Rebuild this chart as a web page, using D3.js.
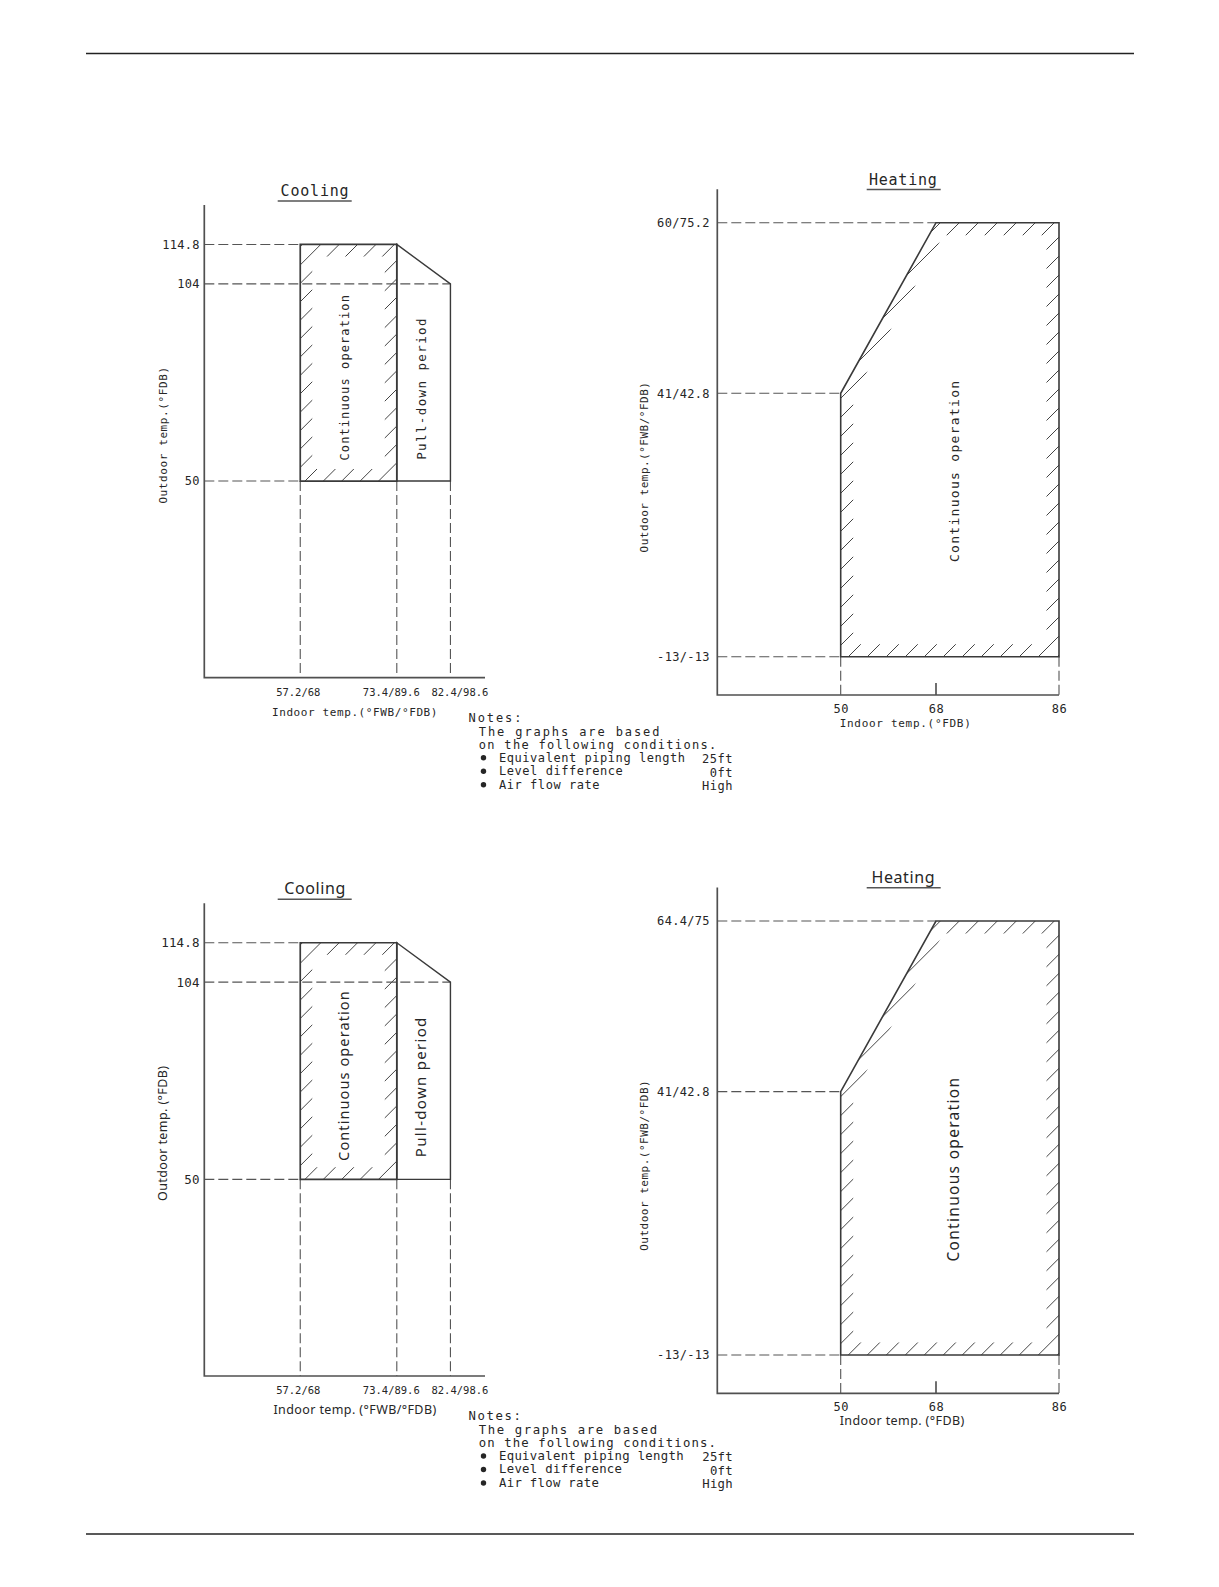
<!DOCTYPE html>
<html><head><meta charset="utf-8">
<script src="https://cdn.jsdelivr.net/npm/d3@7/dist/d3.min.js"></script>
<style>html,body{margin:0;padding:0;background:#fff}svg{display:block}</style>
</head><body>
<script>
// ---------------- DATA ----------------
const coolXValues = [57.2, 73.4, 82.4];                 // indoor °FWB
const coolXLabels = ["57.2/68", "73.4/89.6", "82.4/98.6"];
const coolYValues = [50, 104, 114.8];                   // outdoor °FDB
const coolYLabels = ["50", "104", "114.8"];
const coolContinuous = [[57.2, 50], [57.2, 114.8], [73.4, 114.8], [73.4, 50]];
const coolPullDown = [[73.4, 114.8], [82.4, 104], [82.4, 50], [73.4, 50]];

const heatXValues = [50, 68, 86];                       // indoor °FDB
const heatXLabels = ["50", "68", "86"];
const heatYValuesA = [-13, 42.8, 75.2];                 // outdoor °FDB
const heatYLabelsA = ["-13/-13", "41/42.8", "60/75.2"];
const heatEnvelopeA = [[50, -13], [50, 42.8], [68, 75.2], [86, 75.2], [86, -13]];
const heatYValuesB = [-13, 42.8, 75];
const heatYLabelsB = ["-13/-13", "41/42.8", "64.4/75"];
const heatEnvelopeB = [[50, -13], [50, 42.8], [68, 75], [86, 75], [86, -13]];

const noteHead = ["Notes:", "The graphs are based", "on the following conditions."];
const noteItems = ["Equivalent piping length", "Level difference", "Air flow rate"];
const noteValues = ["25ft", "0ft", "High"];

// ---------------- STYLE ----------------
const W = 1219, H = 1587;
const MONO = "'DejaVu Sans Mono','Liberation Mono',monospace";
const SANS = "'Noto Sans','DejaVu Sans',sans-serif";
const INK = "#262626";
const LINE = "#3a3a3a";
const BOTTOM_DY = 698.3;

const svg = d3.select("body").append("svg")
  .attr("width", W).attr("height", H).attr("viewBox", `0 0 ${W} ${H}`);
svg.append("rect").attr("width", W).attr("height", H).attr("fill", "#fff");

// page rules
svg.append("line").attr("x1", 86).attr("x2", 1134).attr("y1", 53.5).attr("y2", 53.5)
  .attr("stroke", "#222").attr("stroke-width", 1.5);
svg.append("line").attr("x1", 86).attr("x2", 1134).attr("y1", 1534).attr("y2", 1534)
  .attr("stroke", "#222").attr("stroke-width", 1.5);

function setFont(sel, f) {
  return sel.attr("font-family", f[0]).attr("font-size", f[1])
    .attr("letter-spacing", f[2]).attr("fill", INK);
}

function dashLine(g, x1, y1, x2, y2) {
  g.append("line").attr("x1", x1).attr("y1", y1).attr("x2", x2).attr("y2", y2)
    .attr("stroke", "#555").attr("stroke-width", 1.1).attr("stroke-dasharray", "10,4");
}

function inset(poly, d) {
  const n = poly.length;
  const cx = d3.mean(poly, p => p[0]), cy = d3.mean(poly, p => p[1]);
  const lines = [];
  for (let i = 0; i < n; i++) {
    const a = poly[i], b = poly[(i + 1) % n];
    const dx = b[0] - a[0], dy = b[1] - a[1], L = Math.hypot(dx, dy);
    let nx = -dy / L, ny = dx / L;
    if (nx * (cx - a[0]) + ny * (cy - a[1]) < 0) { nx = -nx; ny = -ny; }
    lines.push({ p: [a[0] + nx * d, a[1] + ny * d], d: [dx, dy] });
  }
  const out = [];
  for (let i = 0; i < n; i++) {
    const l1 = lines[(i - 1 + n) % n], l2 = lines[i];
    const cr = l1.d[0] * l2.d[1] - l1.d[1] * l2.d[0];
    const t = ((l2.p[0] - l1.p[0]) * l2.d[1] - (l2.p[1] - l1.p[1]) * l2.d[0]) / cr;
    out.push([l1.p[0] + t * l1.d[0], l1.p[1] + t * l1.d[1]]);
  }
  return out;
}

// border hatching: 45° strokes clipped to a band just inside the polygon
function hatch(g, poly, id, c0, step, band) {
  const inner = inset(poly, band);
  const d = "M" + poly.join("L") + "Z M" + inner.join("L") + "Z";
  g.append("clipPath").attr("id", id).append("path").attr("d", d).attr("clip-rule", "evenodd");
  const xs = poly.map(p => p[0]), ys = poly.map(p => p[1]);
  const minC = d3.min(xs) + d3.min(ys), maxC = d3.max(xs) + d3.max(ys);
  const top = d3.min(ys) - 2, bot = d3.max(ys) + 2;
  let c = c0; while (c > minC) c -= step;
  const cs = []; for (; c <= maxC + step; c += step) cs.push(c);
  g.append("g").attr("clip-path", `url(#${id})`)
    .selectAll("line").data(cs).join("line")
    .attr("x1", k => k - bot).attr("y1", bot)
    .attr("x2", k => k - top).attr("y2", top)
    .attr("stroke", "#444").attr("stroke-width", 1);
}

function drawTitle(g, text, cx, baseline, ul, f) {
  setFont(g.append("text").attr("x", cx).attr("y", baseline).attr("text-anchor", "middle").text(text), f);
  g.append("line").attr("x1", ul[0]).attr("x2", ul[1]).attr("y1", ul[2]).attr("y2", ul[2])
    .attr("stroke", "#555").attr("stroke-width", 1.6);
}

function rotText(g, text, cx, cy, f) {
  setFont(g.append("text").attr("transform", `translate(${cx},${cy}) rotate(-90)`)
    .attr("text-anchor", "middle").text(text), f);
}

// ---------------- COOLING ----------------
function drawCooling(g, cfg) {
  const x = d3.scaleLinear().domain([41.1, 88.2]).range([204.3, 485]);
  const y = d3.scaleLinear().domain([-3.85, 125.6]).range([677.7, 205]);
  const [xL, xR] = x.range(), [yB, yT] = y.range();
  const [v0, v1, v2] = coolXValues, [yLo, yMid, yHi] = coolYValues;

  drawTitle(g, "Cooling", 315, 196, [277.7, 351.7, 201], cfg.title);

  // dashed guide lines
  dashLine(g, xL, y(yHi), x(v0), y(yHi));
  dashLine(g, xL, y(yMid), x(v2), y(yMid));
  dashLine(g, xL, y(yLo), x(v0), y(yLo));
  coolXValues.forEach(v => dashLine(g, x(v), y(yLo), x(v), yB));

  // hatch on continuous-operation zone
  const cont = coolContinuous.map(p => [x(p[0]), y(p[1])]);
  hatch(g, cont, cfg.id + "h", 786, 18.4, 12);

  // outlines
  const ln = d3.line().x(d => x(d[0])).y(d => y(d[1]));
  g.append("path").attr("d", ln(coolContinuous) + "Z").attr("fill", "none")
    .attr("stroke", LINE).attr("stroke-width", 1.7);
  g.append("path").attr("d", ln(coolPullDown) + "Z").attr("fill", "none")
    .attr("stroke", LINE).attr("stroke-width", 1.4);

  // axes
  const ay = g.append("g").attr("transform", `translate(${xL},0)`)
    .call(d3.axisLeft(y).tickValues(coolYValues).tickFormat((d, i) => coolYLabels[i]).tickSize(0).tickPadding(4.5));
  ay.select(".domain").remove();
  setFont(ay.selectAll("text"), cfg.ytick);
  const ax = g.append("g").attr("transform", `translate(0,${yB})`)
    .call(d3.axisBottom(x).tickValues(coolXValues).tickFormat((d, i) => coolXLabels[i]).tickSize(0).tickPadding(cfg.xpad));
  ax.select(".domain").remove();
  const nudge = [-2.5, -6, 9];
  setFont(ax.selectAll("text"), cfg.xtick).attr("dx", (d, i) => nudge[i]);
  g.append("path").attr("d", `M${xL},${yT}V${yB}H${xR}`).attr("fill", "none")
    .attr("stroke", "#505050").attr("stroke-width", 1.7);

  // region labels
  rotText(g, "Continuous operation", (x(v0) + x(v1)) / 2 + 0.3, (y(yLo) + y(yHi)) / 2 + 14.5, cfg.region);
  rotText(g, "Pull-down period", (x(v1) + x(v2)) / 2 + 2.6, (y(yMid) + y(yLo)) / 2 + 6, cfg.region2);

  // axis titles
  setFont(g.append("text").attr("x", 355).attr("y", yB + 38).attr("text-anchor", "middle").text(cfg.xTitle), cfg.axis);
  rotText(g, cfg.yTitle, 167, 435, cfg.axis);
}

// ---------------- HEATING ----------------
function drawHeating(g, cfg) {
  const x = d3.scaleLinear().domain(heatXValues).range([840.7, 936, 1059]);
  const y = d3.scaleLinear().domain(cfg.yVals).range([656.7, 393.3, 222.7]);
  const xL = 717.3, yT = 189.3, yB = 695, xR = x(heatXValues[2]);
  const [h0, h1, h2] = heatXValues, [yLo, yMid, yHi] = cfg.yVals;

  drawTitle(g, "Heating", 903.3, 185, [866.7, 940.7, 189.5], cfg.title);

  dashLine(g, xL, y(yHi), x(h1), y(yHi));
  dashLine(g, xL, y(yMid), x(h0), y(yMid));
  dashLine(g, xL, y(yLo), x(h0), y(yLo));
  [h0, h2].forEach(v => dashLine(g, x(v), y(yLo), x(v), yB));

  const env = cfg.env.map(p => [x(p[0]), y(p[1])]);
  hatch(g, env, cfg.id + "h", 1505, 19, 12.5);

  const ln = d3.line().x(d => x(d[0])).y(d => y(d[1]));
  g.append("path").attr("d", ln(cfg.env) + "Z").attr("fill", "none")
    .attr("stroke", LINE).attr("stroke-width", 1.6);

  const ay = g.append("g").attr("transform", `translate(${xL},0)`)
    .call(d3.axisLeft(y).tickValues(cfg.yVals).tickFormat((d, i) => cfg.yLabels[i]).tickSize(0).tickPadding(7.5));
  ay.select(".domain").remove();
  setFont(ay.selectAll("text"), cfg.ytick);
  const ax = g.append("g").attr("transform", `translate(0,${yB})`)
    .call(d3.axisBottom(x).tickValues(heatXValues).tickFormat((d, i) => heatXLabels[i]).tickSize(0).tickPadding(cfg.xpad));
  ax.select(".domain").remove();
  setFont(ax.selectAll("text"), cfg.xtick);
  // interior tick (68)
  g.append("line").attr("x1", x(h1)).attr("x2", x(h1)).attr("y1", yB).attr("y2", yB - 12)
    .attr("stroke", "#333").attr("stroke-width", 1.4);
  g.append("path").attr("d", `M${xL},${yT}V${yB}H${xR}`).attr("fill", "none")
    .attr("stroke", "#505050").attr("stroke-width", 1.7);

  rotText(g, "Continuous operation", (x(h0) + x(h2)) / 2 + 9.6, 470.8, cfg.region);

  setFont(g.append("text").attr("x", x(h0) - 1).attr("y", yB + 32).attr("text-anchor", "start").text(cfg.xTitle), cfg.axis);
  rotText(g, cfg.yTitle, 647.5, 467, cfg.axisY);
}

// ---------------- NOTES ----------------
function drawNotes(g, cfg) {
  setFont(g.append("text").attr("x", 468.6).attr("y", 721.5).text(noteHead[0]), cfg.head);
  setFont(g.append("text").attr("x", 478.8).attr("y", 735.5).text(noteHead[1]), cfg.head);
  setFont(g.append("text").attr("x", 478.8).attr("y", 748.5).text(noteHead[2]), cfg.head2);
  const base = [761.7, 775.2, 788.7];
  noteItems.forEach((t, i) => {
    g.append("circle").attr("cx", 483.5).attr("cy", base[i] - 4).attr("r", 2.7).attr("fill", INK);
    setFont(g.append("text").attr("x", 499).attr("y", base[i]).text(t), cfg.item);
    setFont(g.append("text").attr("x", 733).attr("y", base[i] + 1.5).attr("text-anchor", "end").text(noteValues[i]), cfg.item);
  });
}

// ---------------- RENDER ----------------
const gTop = svg.append("g");
drawCooling(gTop, {
  id: "c1", title: [MONO, 15, 0.8], ytick: [MONO, 12, 0.3], xtick: [MONO, 10.5, 0], xpad: 10.8,
  region: [MONO, 12, 1.1], region2: [MONO, 12.5, 1.4], axis: [MONO, 11, 0.6],
  xTitle: "Indoor temp.(°FWB/°FDB)", yTitle: "Outdoor temp.(°FDB)"
});
drawHeating(gTop, {
  id: "h1", yVals: heatYValuesA, yLabels: heatYLabelsA, env: heatEnvelopeA,
  title: [MONO, 15, 0.8], ytick: [MONO, 12, 0.3], xtick: [MONO, 12, 0.5], xpad: 9.5,
  region: [MONO, 13, 1.3], axis: [MONO, 11, 0.7], axisY: [MONO, 11, 0.5],
  xTitle: "Indoor temp.(°FDB)", yTitle: "Outdoor temp.(°FWB/°FDB)"
});
drawNotes(gTop, { head: [MONO, 12, 1.9], head2: [MONO, 12, 1.3], item: [MONO, 12, 0.55] });

const gBot = svg.append("g").attr("transform", `translate(0,${BOTTOM_DY})`);
drawCooling(gBot, {
  id: "c2", title: [SANS, 16, 0.6], ytick: [MONO, 12.5, 0.2], xtick: [MONO, 10.5, 0], xpad: 10.8,
  region: [SANS, 14.5, 1.1], region2: [SANS, 15, 1.3], axis: [SANS, 12.5, 0.4],
  xTitle: "Indoor temp. (°FWB/°FDB)", yTitle: "Outdoor temp. (°FDB)"
});
drawHeating(gBot, {
  id: "h2", yVals: heatYValuesB, yLabels: heatYLabelsB, env: heatEnvelopeB,
  title: [SANS, 16, 0.6], ytick: [MONO, 12, 0.3], xtick: [MONO, 12, 0.5], xpad: 9.5,
  region: [SANS, 15.5, 1.3], axis: [SANS, 12.5, 0.4], axisY: [MONO, 11, 0.5],
  xTitle: "Indoor temp. (°FDB)", yTitle: "Outdoor temp.(°FWB/°FDB)"
});
drawNotes(gBot, { head: [MONO, 12.3, 1.6], head2: [MONO, 12.3, 1.1], item: [MONO, 12.3, 0.3] });
</script>
</body></html>
